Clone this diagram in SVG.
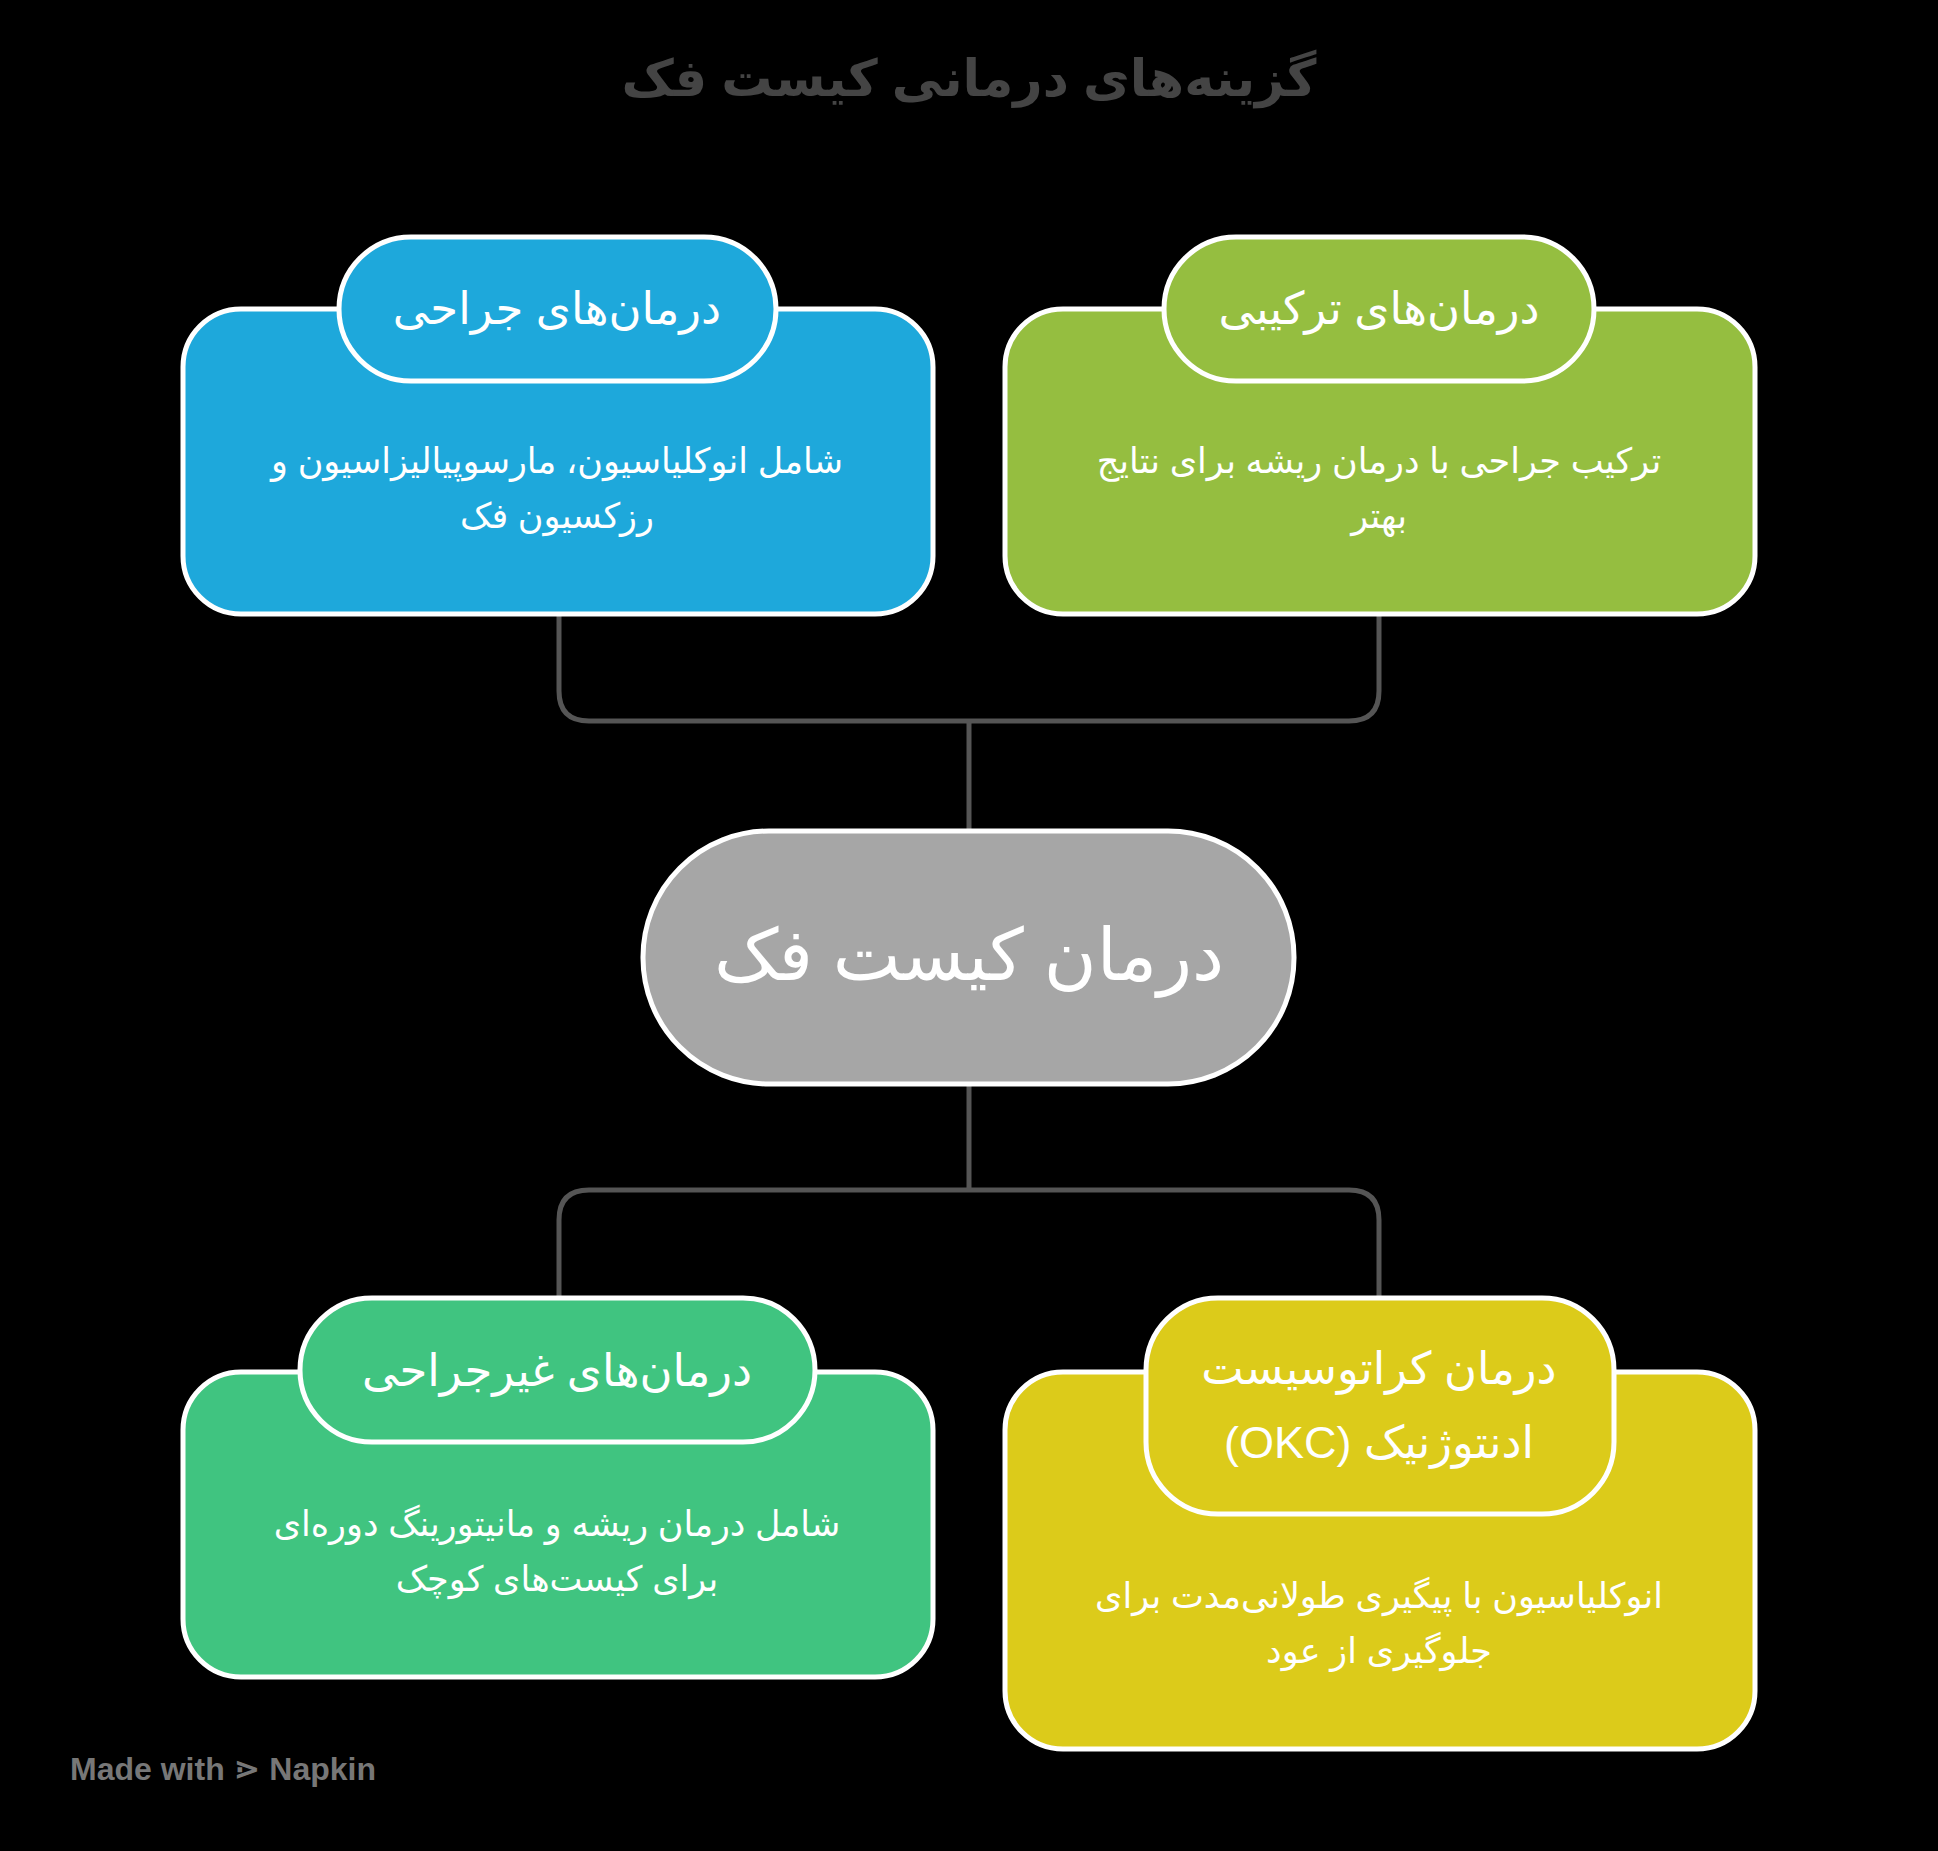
<svg xmlns="http://www.w3.org/2000/svg" width="1938" height="1851" viewBox="0 0 1938 1851">
<style>
text{font-family:"Liberation Sans","DejaVu Sans",sans-serif;text-anchor:middle;direction:rtl;fill:#fff}
.b{stroke:#fff;stroke-width:5}
.h{font-size:45px}
.t{font-size:35px}
.c{fill:none;stroke:#555;stroke-width:5}
</style>
<rect width="1938" height="1851" fill="#000"/>
<text x="969" y="96" style="font-size:51px;font-weight:bold;fill:#444">گزینه‌های درمانی کیست فک</text>
<g id="connectors">
<path class="c" d="M559 614V691Q559 721 589 721H1349Q1379 721 1379 691V614M969 721V831"/>
<path class="c" d="M969 1084V1190M589 1190H1349Q1379 1190 1379 1220V1298M559 1298V1220Q559 1190 589 1190"/>
</g>
<g id="surgical">
<rect class="b" x="183" y="309" width="750" height="305" rx="58" fill="#1EA8DB"/>
<rect class="b" x="339" y="237" width="437" height="144" rx="72" fill="#1EA8DB"/>
<text class="h" x="557" y="324">درمان‌های جراحی</text>
<text class="t" x="557" y="473">شامل انوکلیاسیون، مارسوپیالیزاسیون و</text>
<text class="t" x="557" y="528">رزکسیون فک</text>
</g>
<g id="combined">
<rect class="b" x="1005" y="309" width="750" height="305" rx="58" fill="#95BE40"/>
<rect class="b" x="1164" y="237" width="430" height="144" rx="72" fill="#95BE40"/>
<text class="h" x="1379" y="324">درمان‌های ترکیبی</text>
<text class="t" x="1379" y="473">ترکیب جراحی با درمان ریشه برای نتایج</text>
<text class="t" x="1379" y="528">بهتر</text>
</g>
<g id="center">
<rect class="b" x="643" y="831" width="651" height="253" rx="126" fill="#A6A6A6"/>
<text x="969" y="980" style="font-size:72px">درمان کیست فک</text>
</g>
<g id="nonsurgical">
<rect class="b" x="183" y="1372" width="750" height="305" rx="58" fill="#40C480"/>
<rect class="b" x="300" y="1298" width="515" height="144" rx="72" fill="#40C480"/>
<text class="h" x="557" y="1386">درمان‌های غیرجراحی</text>
<text class="t" x="557" y="1536">شامل درمان ریشه و مانیتورینگ دوره‌ای</text>
<text class="t" x="557" y="1591">برای کیست‌های کوچک</text>
</g>
<g id="okc">
<rect class="b" x="1005" y="1372" width="750" height="377" rx="58" fill="#DCCB1A"/>
<rect class="b" x="1146" y="1298" width="468" height="216" rx="72" fill="#DCCB1A"/>
<text class="h" x="1379" y="1384">درمان کراتوسیست</text>
<text class="h" x="1379" y="1458">ادنتوژنیک (OKC)</text>
<text class="t" x="1379" y="1608">انوکلیاسیون با پیگیری طولانی‌مدت برای</text>
<text class="t" x="1379" y="1663">جلوگیری از عود</text>
</g>
<text x="70" y="1780" style="font-size:32px;fill:#777;direction:ltr;text-anchor:start;font-weight:bold">Made with ⋗ Napkin</text>
</svg>
